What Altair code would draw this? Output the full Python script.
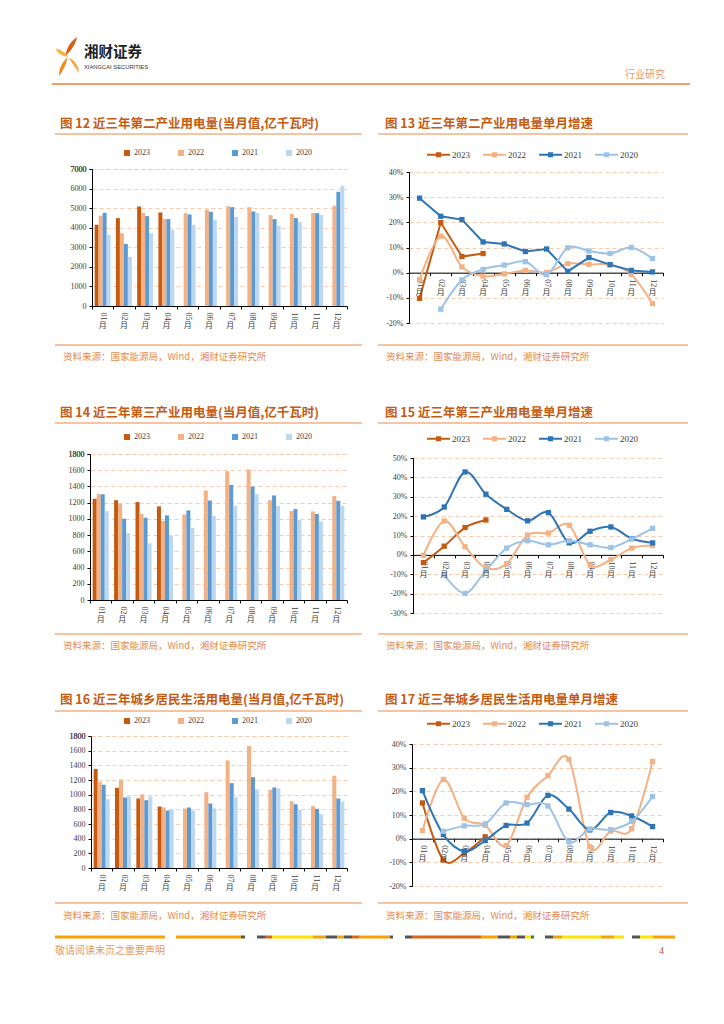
import altair as alt
import pandas as pd

# ---------------- data ----------------
months = ["01", "02", "03", "04", "05", "06", "07", "08", "09", "10", "11", "12"]
years = ["2023", "2022", "2021", "2020"]

# 图12 第二产业用电量(亿千瓦时)
ind2_2023 = [4150, 4490, 5085, 4780]
ind2_2022 = [4610, 3720, 4760, 4440, 4745, 4915, 5100, 5050, 4640, 4710, 4760, 5120]
ind2_2021 = [4760, 3175, 4590, 4440, 4675, 4810, 5050, 4830, 4440, 4490, 4745, 5835]
ind2_2020 = [3635, 2510, 3720, 3890, 4145, 4405, 4555, 4760, 4095, 4285, 4660, 6145]

# 图13 第二产业用电量单月增速(%)
g2_2023 = [-10.2, 19.9, 6.4, 7.6]
g2_2022 = [-2.8, 14.5, 2.3, -1.4, -0.5, 0.9, 0.1, 3.6, 3.3, 3.1, -0.7, -12.3]
g2_2021 = [29.6, 22.4, 21.1, 12.2, 11.4, 8.4, 9.4, 0.5, 6.0, 3.2, 0.9, 0.3]
g2_2020 = [None, -14.5, -2.9, 1.3, 3.0, 4.4, -0.8, 9.9, 8.6, 7.6, 10.0, 5.6]

# 图14 第三产业用电量(亿千瓦时)
ind3_2023 = [1248, 1231, 1207, 1154]
ind3_2022 = [1305, 1182, 1060, 974, 1055, 1350, 1587, 1608, 1231, 1096, 1092, 1281]
ind3_2021 = [1305, 1002, 1015, 1043, 1105, 1227, 1420, 1399, 1289, 1121, 1060, 1223]
ind3_2020 = [1096, 826, 700, 794, 888, 1035, 1162, 1305, 1162, 986, 970, 1158]

# 图15 第三产业用电量单月增速(%)
g3_2023 = [-4.0, 4.5, 14.1, 18.0]
g3_2022 = [-0.3, 17.5, 4.2, -6.8, -4.5, 10.2, 11.3, 15.3, -5.2, -2.4, 3.5, 4.8]
g3_2021 = [19.6, 24.7, 42.8, 31.3, 23.5, 17.6, 21.8, 6.2, 12.2, 14.4, 8.4, 6.2]
g3_2020 = [None, -10.3, -19.9, -8.0, 3.5, 7.3, 5.2, 7.3, 5.2, 3.8, 8.2, 13.7]

# 图16 城乡居民生活用电量(亿千瓦时)
res_2023 = [1349, 1094, 948, 838]
res_2022 = [1176, 1208, 1003, 825, 811, 1034, 1467, 1663, 1066, 911, 843, 1258]
res_2021 = [1135, 962, 925, 784, 825, 880, 1157, 1239, 1098, 870, 807, 948]
res_2020 = [939, 975, 975, 797, 784, 816, 966, 1071, 1085, 793, 734, 907]

# 图17 城乡居民生活用电量单月增速(%)
gr_2023 = [15.1, -9.0, -6.1, 0.8]
gr_2022 = [3.4, 25.0, 8.6, 5.6, -2.9, 17.5, 26.6, 33.5, -3.4, 3.2, 4.2, 32.6]
gr_2021 = [20.3, 1.7, -5.3, -0.8, 5.6, 6.6, 18.3, 12.5, 3.7, 11.1, 9.6, 5.1]
gr_2020 = [None, 3.1, 5.4, 6.3, 15.1, 14.4, 13.8, -1.4, 4.1, 3.8, 7.3, 17.8]

fig_titles = [
    "图 12 近三年第二产业用电量(当月值,亿千瓦时)",
    "图 13 近三年第二产业用电量单月增速",
    "图 14 近三年第三产业用电量(当月值,亿千瓦时)",
    "图 15 近三年第三产业用电量单月增速",
    "图 16 近三年城乡居民生活用电量(当月值,亿千瓦时)",
    "图 17 近三年城乡居民生活用电量单月增速",
]
source_text = "资料来源：国家能源局，Wind，湘财证券研究所"
month_unit = "月"
brand_cn = "湘财证券"
brand_en = "XIANGCAI SECURITIES"
report_type = "行业研究"
disclaimer = "敬请阅读末页之重要声明"
page_no = "4"

# ---------------- style ----------------
SERIF = "Liberation Serif"
CJK = "Noto Sans CJK SC"
BAR_COLORS = ["#C55A11", "#F4B183", "#5B9BD5", "#BDD7EE"]
LINE_COLORS = ["#C55A11", "#F4B183", "#2E75B6", "#9DC3E6"]
GRID = "#F8CBAD"
LABEL = "#404040"
LEG_PATH = ("M-1,-0.09L1,-0.09L1,0.09L-1,0.09Z "
            "M-0.22,-0.22L0.22,-0.22L0.22,0.22L-0.22,0.22Z")

# grid cells (page pixel coordinates)
CX = [88, 387]
CW = [259, 276]
CY = [150, 435, 715]
CH = [245, 240, 180]
GAP = 40


def long_df(series):
    rows = []
    for yr, vals in zip(years, series):
        for m, v in zip(months, vals):
            if v is not None:
                rows.append({"month": m, "year": yr, "value": v})
    return pd.DataFrame(rows)


PANELS = [
    dict(kind="bar", series=[ind2_2023, ind2_2022, ind2_2021, ind2_2020], col=0, row=0,
         ax=92, right=347, top=169, bottom=306, lo=0, hi=7000, step=1000, leg=(123, 153)),
    dict(kind="line", series=[g2_2023, g2_2022, g2_2021, g2_2020], col=1, row=0,
         ax=409, right=663, top=172, bottom=323, lo=-20, hi=40, step=10, leg=(427, 155),
         smooth={"2022", "2020"}),
    dict(kind="bar", series=[ind3_2023, ind3_2022, ind3_2021, ind3_2020], col=0, row=1,
         ax=90, right=347, top=454, bottom=600, lo=0, hi=1800, step=200, leg=(123, 437)),
    dict(kind="line", series=[g3_2023, g3_2022, g3_2021, g3_2020], col=1, row=1,
         ax=413, right=663, top=458, bottom=613, lo=-30, hi=50, step=10, leg=(427, 439),
         smooth=set(years)),
    dict(kind="bar", series=[res_2023, res_2022, res_2021, res_2020], col=0, row=2,
         ax=91, right=347, top=736, bottom=868, lo=0, hi=1800, step=200, leg=(123, 721)),
    dict(kind="line", series=[gr_2023, gr_2022, gr_2021, gr_2020], col=1, row=2,
         ax=412, right=663, top=744, bottom=886, lo=-20, hi=40, step=10, leg=(427, 724),
         smooth=set(years)),
]

ONE = pd.DataFrame({"k": [0]})


def build_panel(p):
    cx, cy = CX[p["col"]], CY[p["row"]]
    cw, ch = CW[p["col"]], CH[p["row"]]
    xr = [p["ax"] - cx, p["right"] - cx]
    yr = [p["bottom"] - cy, p["top"] - cy]
    zero_y = yr[0] + (0 - p["lo"]) / (p["hi"] - p["lo"]) * (yr[1] - yr[0])
    df = long_df(p["series"])
    is_bar = p["kind"] == "bar"

    X = alt.X("month:N", sort=months,
              scale=alt.Scale(domain=months, range=xr, paddingInner=0, paddingOuter=0),
              axis=alt.Axis(title=None, labelAngle=90, labelAlign="left", labelBaseline="middle",
                            labelFont=SERIF, labelFontSize=8, labelColor=LABEL, labelPadding=3,
                            tickBand="extent", tickSize=3, tickColor="#000", domainColor="#000",
                            domainWidth=1, offset=zero_y - ch, grid=False))
    yaxis = dict(title=None, values=list(range(p["lo"], p["hi"] + 1, p["step"])),
                 labelFont=SERIF, labelFontSize=8, labelColor=LABEL, labelPadding=3,
                 tickSize=3, tickColor="#000", domainColor="#000", domainWidth=1,
                 offset=-(p["ax"] - cx), grid=True, gridColor=GRID, gridDash=[4, 3], gridWidth=1,
                 labelOverlap=False, tickCount=20)
    if is_bar:
        yaxis["labelExpr"] = "'' + datum.value"
    else:
        yaxis["labelExpr"] = "datum.value + '%'"
    Y = alt.Y("value:Q", stack=None,
              scale=alt.Scale(domain=[p["lo"], p["hi"]], range=yr, nice=False, zero=False),
              axis=alt.Axis(**yaxis))

    layers = []
    if is_bar:
        legend = alt.Legend(orient="none", legendX=p["leg"][0] - cx, legendY=p["leg"][1] - cy - 4,
                            direction="horizontal", title=None, labelFont=SERIF, labelFontSize=8,
                            labelColor=LABEL, symbolType="square", symbolSize=36, symbolStrokeWidth=0,
                            columnPadding=27, labelOffset=3, padding=0)
        layers.append(alt.Chart(df).mark_bar().encode(
            x=X, y=Y,
            xOffset=alt.XOffset("year:N", sort=years,
                                scale=alt.Scale(domain=years, paddingInner=0, paddingOuter=0.667)),
            color=alt.Color("year:N", sort=years, scale=alt.Scale(domain=years, range=BAR_COLORS),
                            legend=legend),
        ))
        # top gridline / tick / label of the value axis
        ty = yr[1] + 0.5
        layers.append(alt.Chart(ONE).mark_rule(color=GRID, strokeDash=[4, 3], strokeWidth=1).encode(
            x=alt.value(xr[0] + 0.5), x2=alt.value(xr[1] + 0.5), y=alt.value(ty)))
        layers.append(alt.Chart(ONE).mark_rule(color="#000", strokeWidth=1).encode(
            x=alt.value(xr[0] - 2.5), x2=alt.value(xr[0] + 0.5), y=alt.value(ty)))
        layers.append(alt.Chart(ONE).mark_text(text=str(p["hi"]), align="right", baseline="middle",
                                               font=SERIF, fontSize=8, color=LABEL).encode(
            x=alt.value(xr[0] - 5.5), y=alt.value(ty)))
    else:
        color_of = dict(zip(years, LINE_COLORS))
        df["c"] = df["year"].map(color_of)
        legend = alt.Legend(orient="none", legendX=p["leg"][0] - cx, legendY=round(p["leg"][1] - cy - 12),
                            direction="horizontal", title=None, labelFont=SERIF, labelFontSize=9,
                            labelColor=LABEL, symbolType=LEG_PATH, symbolSize=529,
                            symbolStrokeWidth=0, columnPadding=13, labelOffset=2, padding=0)
        for yv in years:
            interp = "cardinal" if yv in p["smooth"] else "linear"
            layers.append(alt.Chart(df).transform_filter(alt.datum.year == yv).mark_line(
                strokeWidth=2, interpolate=interp).encode(
                x=X, y=Y, stroke=alt.Stroke("c:N", scale=None, legend=None)))
        layers.append(alt.Chart(df).mark_square(size=28, opacity=1).encode(
            x=X, y=Y,
            color=alt.Color("year:N", sort=years, scale=alt.Scale(domain=years, range=LINE_COLORS),
                            legend=legend)))
    layers.append(alt.Chart(pd.DataFrame({"month": months})).mark_text(
        text=month_unit, font=CJK, fontSize=8, color=LABEL, baseline="middle").encode(
        x=X, y=alt.value(zero_y + 20)))
    return layers, (cw, ch)


# ---------------- page decorations (page coords, drawn in panel 1) ----------------
def PX(x):
    return x - CX[0]


def PY(y):
    return y - CY[0]


def txt(text, x, y, size, color, align="left", weight="normal", font=CJK):
    return alt.Chart(ONE).mark_text(text=text, align=align, baseline="middle", fontSize=size,
                                    fontWeight=weight, font=font, color=color).encode(
        x=alt.value(PX(x)), y=alt.value(PY(y)))


def rule(x1, x2, y, color, w):
    return alt.Chart(ONE).mark_rule(color=color, strokeWidth=w).encode(
        x=alt.value(PX(x1)), x2=alt.value(PX(x2)), y=alt.value(PY(y)))


def leaf(path, color):
    return alt.Chart(ONE).mark_point(shape=path, size=1600, filled=True, fill=color,
                                     strokeWidth=0, opacity=1).encode(
        x=alt.value(PX(68)), y=alt.value(PY(57)))


deco = []
deco.append(alt.Chart(ONE).mark_rect(opacity=0).encode(
    x=alt.value(PX(8)), y=alt.value(PY(8)), x2=alt.value(PX(716)), y2=alt.value(PY(1016))))
deco.append(leaf("M0.45,-1C0.15,-0.8 -0.1,-0.45 -0.12,-0.05C0.12,-0.3 0.38,-0.6 0.45,-1Z", "#D4621A"))
deco.append(leaf("M-0.62,-0.42C-0.35,-0.36 -0.1,-0.2 0,0C-0.28,-0.04 -0.52,-0.16 -0.62,-0.42Z", "#F6B03C"))
deco.append(leaf("M-0.02,0.02C-0.1,0.4 -0.25,0.7 -0.45,0.95C-0.47,0.6 -0.3,0.25 -0.02,0.02Z", "#EE8A22"))
deco.append(leaf("M0.02,0.02C0.35,0.15 0.55,0.45 0.55,0.8C0.35,0.5 0.2,0.3 0.02,0.02Z", "#F7A94A"))
deco.append(txt(brand_cn, 84, 52.5, 14.5, "#222222", weight="bold"))
deco.append(txt(brand_en, 84, 66.5, 5.8, "#333333", font="Liberation Sans"))
deco.append(txt(report_type, 665, 75, 10, "#E39B6D", align="right"))
deco.append(rule(52, 690, 84, "#E4803A", 1.5))

title_y = [124, 413, 700]
under_y = [134, 423, 711]
srcline_y = [345, 634, 903]
src_y = [357, 646, 916]
col_x = [(60, 55, 362, 63), (385, 378, 688, 386)]
for r in range(3):
    for c in range(2):
        tx, lx1, lx2, sx = col_x[c]
        deco.append(txt(fig_titles[2 * r + c], tx, title_y[r], 12.5, "#C55A11", weight="bold"))
        deco.append(rule(lx1, lx2, under_y[r], "#F4B183", 1.5))
        deco.append(rule(lx1, lx2, srcline_y[r], "#F4B183", 1.5))
        deco.append(txt(source_text, sx, src_y[r], 9.5, "#E38B4F"))

band = [
    (55, 165, "#F5A300"), (176, 241, "#F5A300"), (241, 245, "#555555"), (257, 265, "#555555"),
    (265, 272, "#D9661B"), (272, 313, "#FFE500"), (313, 326, "#F5A300"), (326, 337, "#555555"),
    (337, 344, "#F5A300"), (344, 352, "#555555"), (352, 359, "#D9661B"), (359, 390, "#F5A300"),
    (390, 393, "#555555"), (405, 412, "#555555"), (412, 481, "#D9661B"), (481, 498, "#F5A300"),
    (498, 510, "#555555"), (510, 517, "#F5A300"), (517, 525, "#555555"), (525, 531, "#FFE500"),
    (531, 534, "#1B7F5A"), (545, 553, "#555555"), (553, 562, "#F5A300"), (562, 601, "#FFE500"),
    (601, 614, "#F5A300"), (614, 624, "#FFE500"), (632, 640, "#555555"), (640, 653, "#FFE500"),
    (653, 675, "#F5A300"),
]
band_df = pd.DataFrame({"x": [PX(a) for a, b, c in band], "x2": [PX(b) for a, b, c in band],
                        "c": [c for a, b, c in band]})
deco.append(alt.Chart(band_df).mark_rule(strokeWidth=3).encode(
    x=alt.X("x:Q", scale=None, axis=None), x2="x2:Q", y=alt.value(PY(937)),
    color=alt.Color("c:N", scale=None, legend=None)))
deco.append(txt(disclaimer, 55, 951, 10, "#E59A62"))
deco.append(txt(page_no, 664, 951, 10, "#C0504D", align="right", font=SERIF))

charts = []
for i, p in enumerate(PANELS):
    layers, (w, h) = build_panel(p)
    if i == 0:
        layers = deco[:1] + layers + deco[1:]
    charts.append(alt.layer(*layers).properties(width=w, height=h))

chart = alt.concat(*charts, columns=2, spacing=GAP, bounds="flush", align="each").properties(
    padding=0
).resolve_scale(
    color="independent", stroke="independent", x="independent", y="independent",
    xOffset="independent"
).resolve_legend(color="independent", stroke="independent").configure_view(stroke=None)

chart.save("out.html", embed_options={"renderer": "svg", "actions": False})
